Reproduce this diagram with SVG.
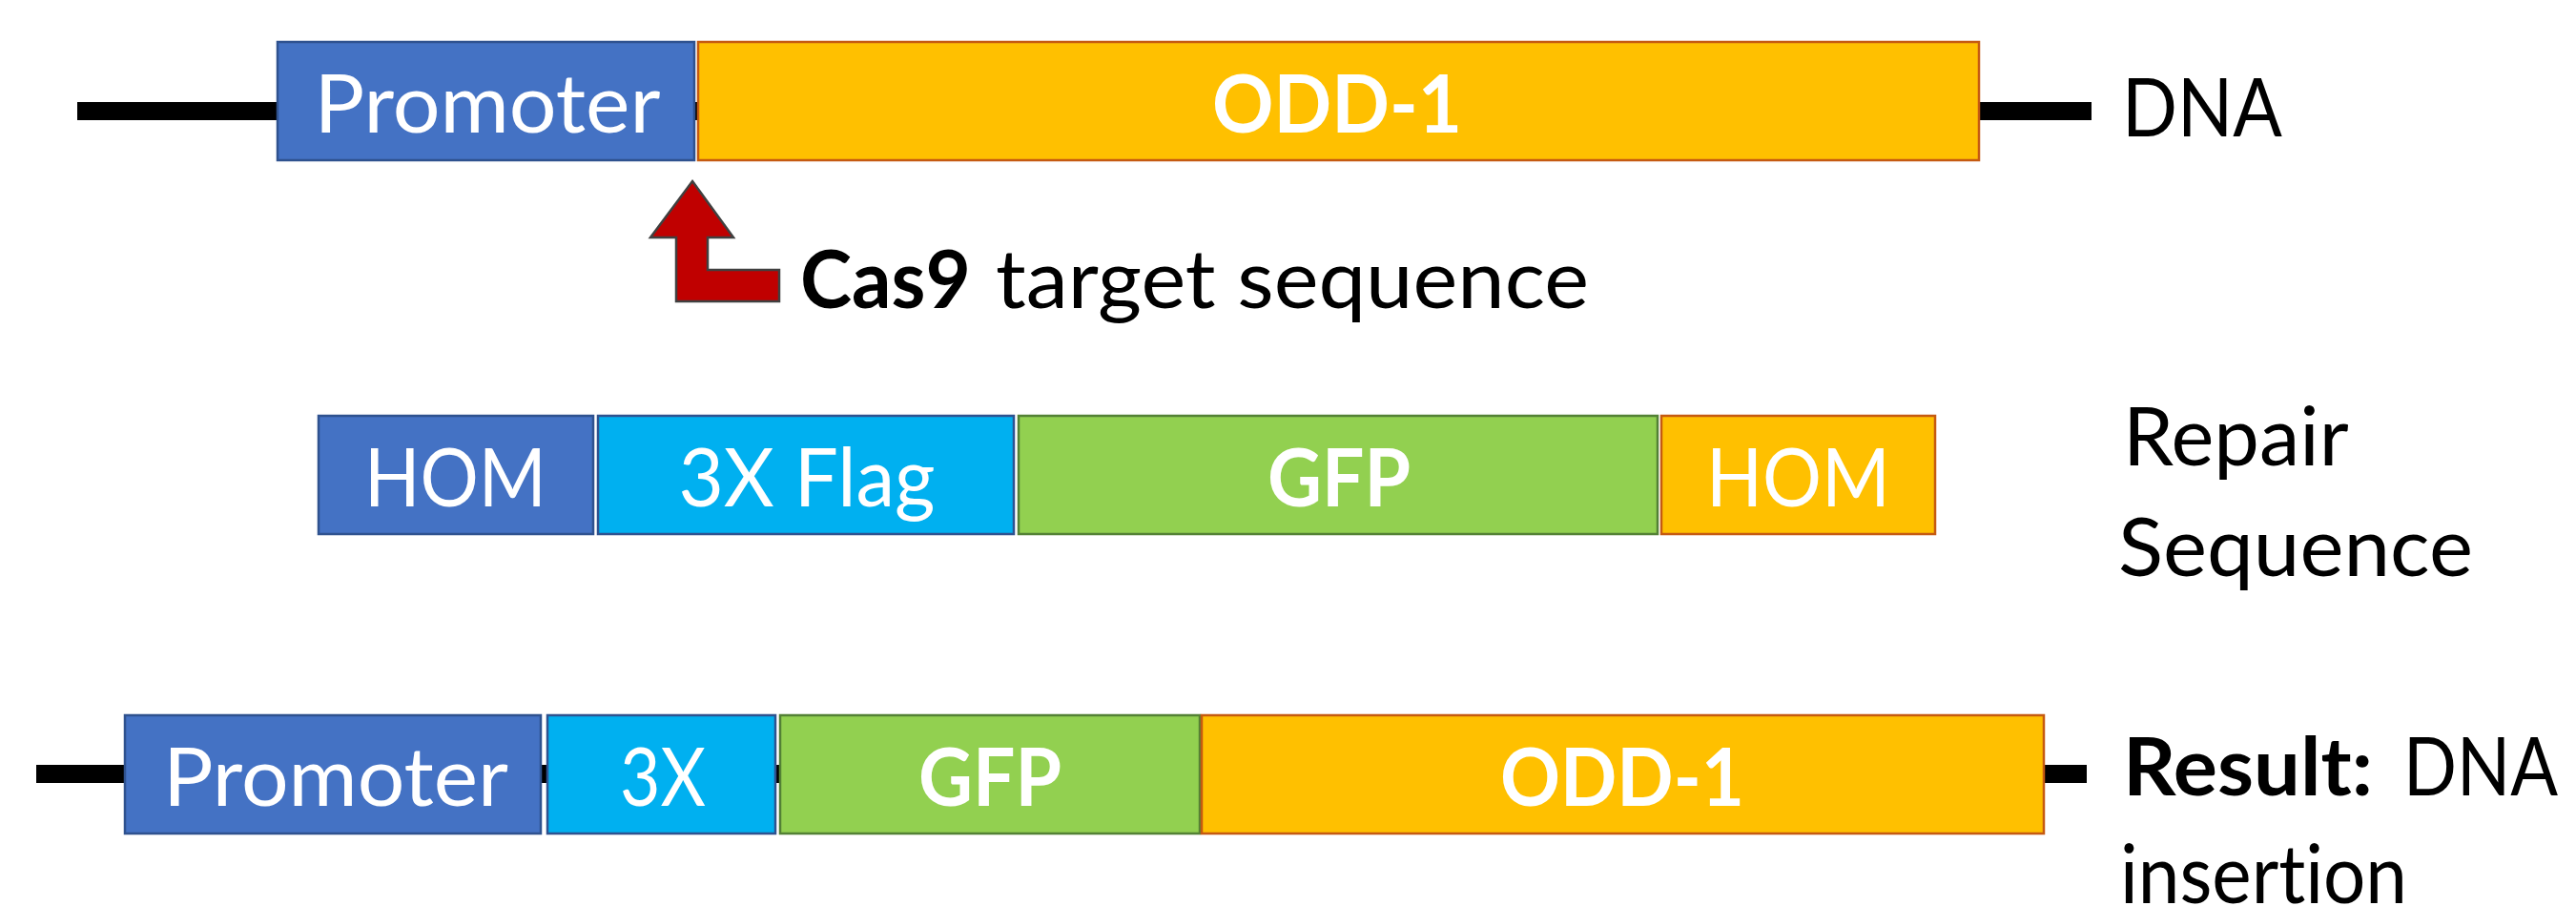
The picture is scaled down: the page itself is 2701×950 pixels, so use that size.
<svg xmlns="http://www.w3.org/2000/svg" width="2701" height="950" viewBox="0 0 2701 950">
<style>
.blue{fill:#4472C4;stroke:#2F528F;stroke-width:2.5}
.cyan{fill:#00B0F0;stroke:#2F528F;stroke-width:2.5}
.green{fill:#92D050;stroke:#538135;stroke-width:2.5}
.orange{fill:#FFC000;stroke:#C55A11;stroke-width:2.5}
.dna{stroke:#000;stroke-width:19;fill:none}
text{font-family:Lato,"Open Sans",sans-serif;font-size:85px;font-variant-ligatures:none}
.w{fill:#fff;text-anchor:middle}
.b{font-weight:bold}
.k{fill:#000}
</style>
<g id="connectors">
<line class="dna" x1="81" y1="116.5" x2="2193" y2="116.5"/>
<line class="dna" x1="38" y1="811.5" x2="2188" y2="811.5"/>
</g>
<g id="top-promoter"><rect class="blue" x="291" y="44" width="437" height="124"/><text class="w" x="511" y="139" textLength="363" lengthAdjust="spacingAndGlyphs">Promoter</text></g>
<g id="top-odd1"><rect class="orange" x="732" y="44" width="1343" height="124"/><text class="w b" x="1402" y="139" textLength="262" lengthAdjust="spacingAndGlyphs">ODD-1</text></g>
<g id="label-dna"><text class="k" x="2225" y="143" textLength="168" lengthAdjust="spacingAndGlyphs">DNA</text></g>
<g id="cas9-arrow"><polygon points="726,190 769,249 742,249 742,283 817,283 817,316 709,316 709,249 682,249" fill="#C00000" stroke="#404040" stroke-width="2.5"/></g>
<g id="cas9-label"><text class="k b" x="839" y="323" textLength="179" lengthAdjust="spacingAndGlyphs">Cas9</text><text class="k" x="1044" y="323" textLength="622" lengthAdjust="spacingAndGlyphs">target sequence</text></g>
<g id="rep-hom1"><rect class="blue" x="334" y="436" width="288" height="124"/><text class="w" x="477.5" y="531" textLength="191" lengthAdjust="spacingAndGlyphs">HOM</text></g>
<g id="rep-flag"><rect class="cyan" x="627" y="436" width="436" height="124"/><text class="w" x="846" y="531" textLength="269" lengthAdjust="spacingAndGlyphs">3X Flag</text></g>
<g id="rep-gfp"><rect class="green" x="1068" y="436" width="670" height="124"/><text class="w b" x="1404" y="531" textLength="150" lengthAdjust="spacingAndGlyphs">GFP</text></g>
<g id="rep-hom2"><rect class="orange" x="1742" y="436" width="287" height="124"/><text class="w" x="1885.5" y="531" textLength="193" lengthAdjust="spacingAndGlyphs">HOM</text></g>
<g id="label-repair"><text class="k" x="2226" y="488">Repair</text><text class="k" x="2221" y="604" textLength="372" lengthAdjust="spacingAndGlyphs">Sequence</text></g>
<g id="res-promoter"><rect class="blue" x="131" y="750" width="436" height="124"/><text class="w" x="352" y="845" textLength="362" lengthAdjust="spacingAndGlyphs">Promoter</text></g>
<g id="res-3x"><rect class="cyan" x="574" y="750" width="239" height="124"/><text class="w" x="695" y="845" textLength="90" lengthAdjust="spacingAndGlyphs">3X</text></g>
<g id="res-gfp"><rect class="green" x="818" y="750" width="440" height="124"/><text class="w b" x="1038" y="845" textLength="150" lengthAdjust="spacingAndGlyphs">GFP</text></g>
<g id="res-odd1"><rect class="orange" x="1260" y="750" width="883" height="124"/><text class="w b" x="1701" y="845" textLength="256" lengthAdjust="spacingAndGlyphs">ODD-1</text></g>
<g id="label-result"><text class="k b" x="2226" y="834" textLength="262" lengthAdjust="spacingAndGlyphs">Result:</text><text class="k" x="2520" y="834" textLength="162" lengthAdjust="spacingAndGlyphs">DNA</text><text class="k" x="2223" y="947" textLength="301" lengthAdjust="spacingAndGlyphs">insertion</text></g>
</svg>
